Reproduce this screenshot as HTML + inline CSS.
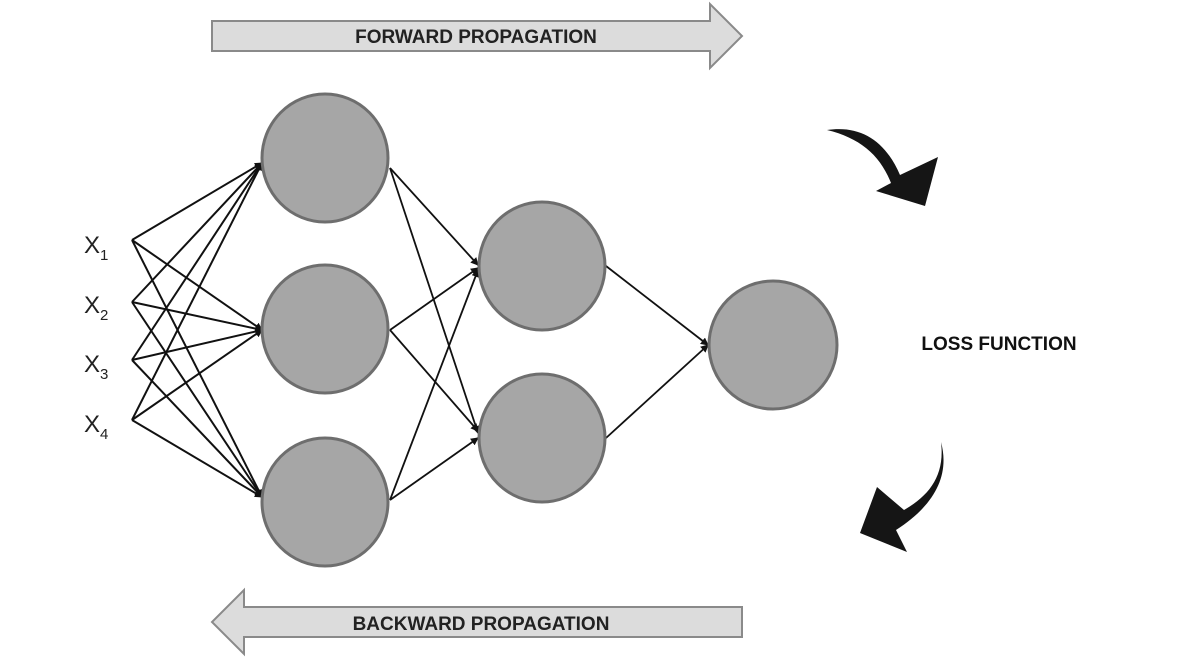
<!DOCTYPE html>
<html><head><style>
html,body{margin:0;padding:0;background:#fff;}
svg{display:block;}
text{font-family:"Liberation Sans",sans-serif;}
</style></head><body>
<svg width="1177" height="660" viewBox="0 0 1177 660" xmlns="http://www.w3.org/2000/svg">
<defs>
<marker id="a" markerWidth="8" markerHeight="8" refX="7" refY="4" orient="auto" markerUnits="userSpaceOnUse">
<path d="M0,0 L8,4 L0,8 z" fill="#111"/>
</marker>
</defs>
<!-- forward arrow -->
<path d="M212,21 L710,21 L710,4 L742,36 L710,68 L710,51 L212,51 z" fill="#dcdcdc" stroke="#8a8a8a" stroke-width="2"/>
<text x="476" y="43" font-size="19" font-weight="bold" text-anchor="middle" fill="#222">FORWARD PROPAGATION</text>
<!-- backward arrow -->
<path d="M742,607 L244,607 L244,590 L212,622 L244,654 L244,637 L742,637 z" fill="#dcdcdc" stroke="#8a8a8a" stroke-width="2"/>
<text x="481" y="630" font-size="19" font-weight="bold" text-anchor="middle" fill="#222">BACKWARD PROPAGATION</text>
<!-- inputs -->
<g font-size="24" fill="#222">
<text x="84" y="253">X<tspan font-size="15" dy="7">1</tspan></text>
<text x="84" y="313">X<tspan font-size="15" dy="7">2</tspan></text>
<text x="84" y="372">X<tspan font-size="15" dy="7">3</tspan></text>
<text x="84" y="432">X<tspan font-size="15" dy="7">4</tspan></text>
</g>
<g stroke="#111" stroke-width="2" marker-end="url(#a)">
<line x1="132" y1="240" x2="262" y2="163"/><line x1="132" y1="240" x2="262" y2="330"/><line x1="132" y1="240" x2="262" y2="497"/>
<line x1="132" y1="302" x2="262" y2="163"/><line x1="132" y1="302" x2="262" y2="330"/><line x1="132" y1="302" x2="262" y2="497"/>
<line x1="132" y1="360" x2="262" y2="163"/><line x1="132" y1="360" x2="262" y2="330"/><line x1="132" y1="360" x2="262" y2="497"/>
<line x1="132" y1="420" x2="262" y2="163"/><line x1="132" y1="420" x2="262" y2="330"/><line x1="132" y1="420" x2="262" y2="497"/>
</g>
<g stroke="#111" stroke-width="1.8" marker-end="url(#a)">
<line x1="390" y1="168" x2="478" y2="265"/><line x1="390" y1="168" x2="478" y2="433"/>
<line x1="390" y1="330" x2="478" y2="268"/><line x1="390" y1="330" x2="478" y2="431"/>
<line x1="390" y1="500" x2="478" y2="270"/><line x1="390" y1="500" x2="478" y2="438"/>
<line x1="606" y1="266" x2="708" y2="345"/><line x1="606" y1="438" x2="708" y2="345"/>
</g>
<g fill="#a6a6a6" stroke="#6e6e6e" stroke-width="3">
<ellipse cx="325" cy="158" rx="63" ry="64"/>
<ellipse cx="325" cy="329" rx="63" ry="64"/>
<ellipse cx="325" cy="502" rx="63" ry="64"/>
<ellipse cx="542" cy="266" rx="63" ry="64"/>
<ellipse cx="542" cy="438" rx="63" ry="64"/>
<ellipse cx="773" cy="345" rx="64" ry="64"/>
</g>
<text x="999" y="350" font-size="19" font-weight="bold" text-anchor="middle" fill="#111">LOSS FUNCTION</text>
<!-- curved arrows -->
<path d="M827,130 C860,125 885,140 900,175 L938,157 L925,206 L876,191 L891,183 C880,155 860,138 827,130 z" fill="#151515"/>
<path d="M941,442 C945,475 930,495 904,510 L877,487 L860,533 L907,552 L896,530 C935,505 950,475 941,442 z" fill="#151515"/>
</svg>
</body></html>
